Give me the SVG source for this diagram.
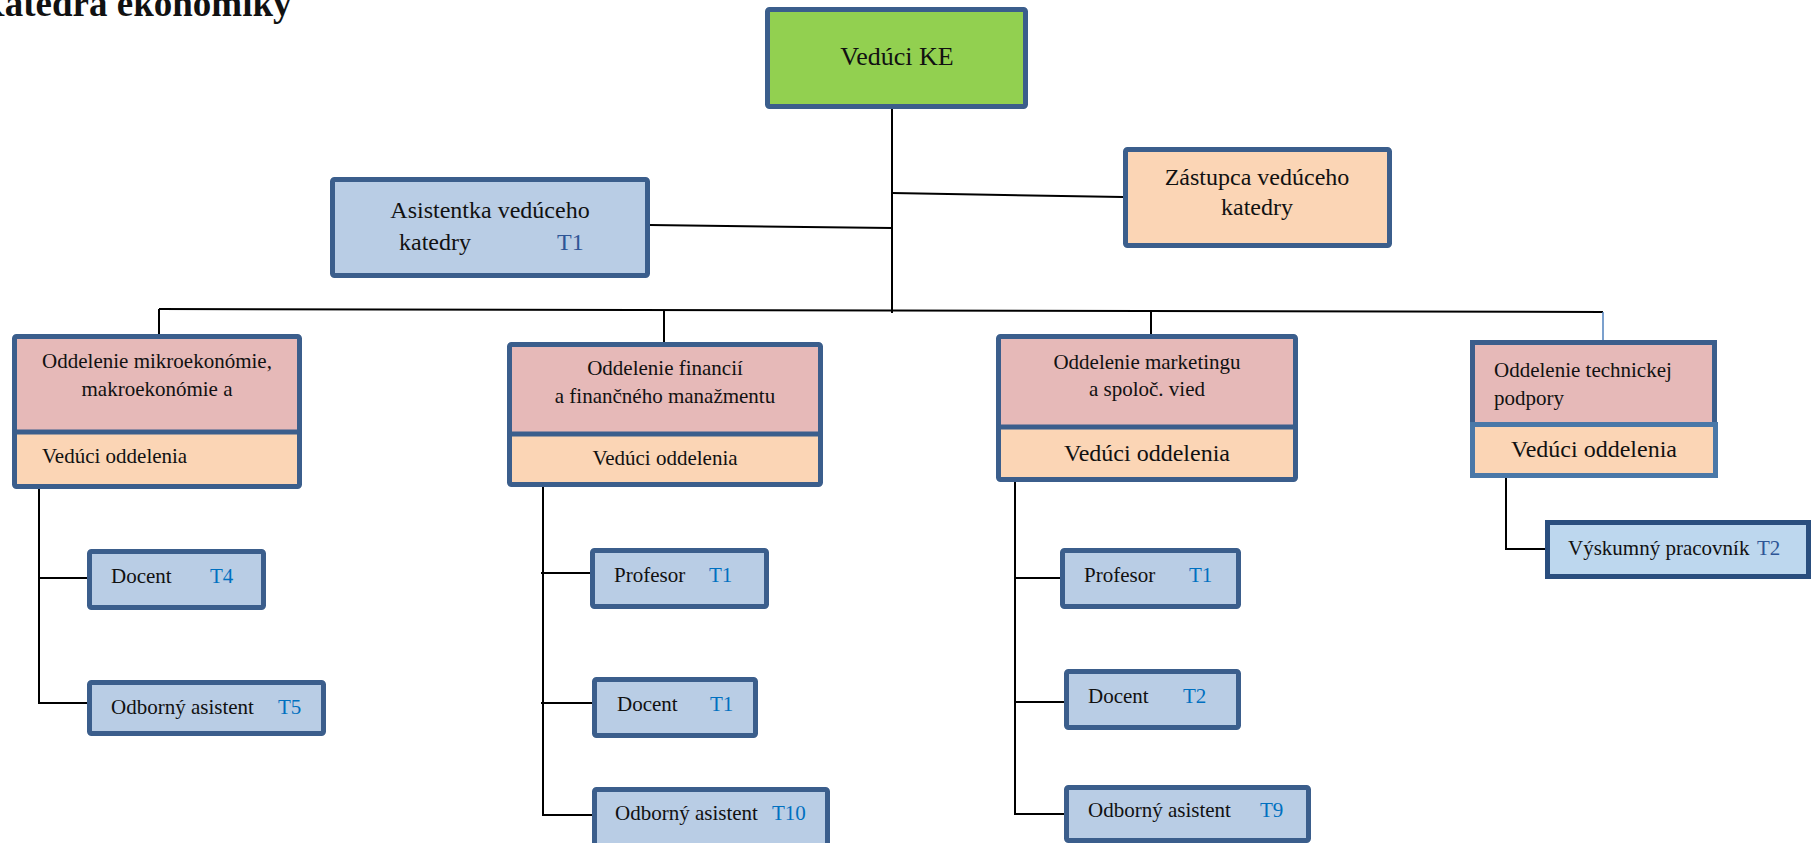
<svg xmlns="http://www.w3.org/2000/svg" width="1811" height="843" viewBox="0 0 1811 843">
<style>
.box{stroke:#3B5E8C;stroke-width:5;}
.blue{fill:#B9CDE5;}
.pink{fill:#E6B9B8;}
.peach{fill:#FBD5B5;}
.green{fill:#92D050;}
.t{font-family:"Liberation Serif","Times New Roman",serif;fill:#111;}
.s21{font-size:21px;}
.s24{font-size:24px;}
.tc{fill:#0070C0;}
.td{fill:#2E5596;}
.ln{stroke:#000;stroke-width:2;fill:none;}
</style>
<rect width="1811" height="843" fill="#fff"/>
<text class="t" x="-24" y="16" font-size="37" font-weight="bold">Katedra ekonomiky</text>

<g id="connectors">
<path class="ln" d="M892 109V313"/>
<path class="ln" d="M650 225L892 228"/>
<path class="ln" d="M892 193L1123 197"/>
<path class="ln" d="M159 309L1603 312"/>
<path class="ln" d="M159 309V334"/>
<path class="ln" d="M664 310V342"/>
<path class="ln" d="M1151 311V334"/>
<path d="M1603 312V340" stroke="#4F81BD" stroke-width="1.5" fill="none"/>
<path class="ln" d="M39 489V703H87M39 578H87"/>
<path class="ln" d="M543 487V815H592M541 573H590M541 703H592"/>
<path class="ln" d="M1015 482V814H1064M1015 578H1060M1015 702H1064"/>
<path class="ln" d="M1506 478V549H1545"/>
</g>

<g id="veduci-ke">
<rect class="box green" x="767.5" y="9.5" width="258" height="97" rx="2"/>
<text class="t" x="897" y="65" font-size="26" text-anchor="middle">Vedúci KE</text>
</g>

<g id="asistentka">
<rect class="box blue" x="332.5" y="179.5" width="315" height="96" rx="2"/>
<text class="t s24" x="490" y="218" text-anchor="middle">Asistentka vedúceho</text>
<text class="t s24" x="399" y="250">katedry</text>
<text class="t s24 td" x="557" y="250">T1</text>
</g>

<g id="zastupca">
<rect class="box peach" x="1125.5" y="149.5" width="264" height="96" rx="2"/>
<text class="t s24" x="1257" y="185" text-anchor="middle">Zástupca vedúceho</text>
<text class="t s24" x="1257" y="215" text-anchor="middle">katedry</text>
</g>

<g id="dept-mikro">
<rect class="box pink" x="14.5" y="336.5" width="285" height="150" rx="2"/>
<rect class="peach" x="17" y="434" width="280" height="50"/>
<path d="M14.5 432H299.5" stroke="#3B5E8C" stroke-width="5"/>
<text class="t s21" x="157" y="368" text-anchor="middle">Oddelenie mikroekonómie,</text>
<text class="t s21" x="157" y="396" text-anchor="middle">makroekonómie a</text>
<text class="t s21" x="42" y="463">Vedúci oddelenia</text>
</g>

<g id="dept-financie">
<rect class="box pink" x="509.5" y="344.5" width="311" height="140" rx="2"/>
<rect class="peach" x="512" y="436" width="306" height="46"/>
<path d="M509.5 434H820.5" stroke="#3B5E8C" stroke-width="5"/>
<text class="t s21" x="665" y="375" text-anchor="middle">Oddelenie financií</text>
<text class="t s21" x="665" y="403" text-anchor="middle">a finančného manažmentu</text>
<text class="t s21" x="665" y="465" text-anchor="middle">Vedúci oddelenia</text>
</g>

<g id="dept-marketing">
<rect class="box pink" x="998.5" y="336.5" width="297" height="143" rx="2"/>
<rect class="peach" x="1001" y="429" width="292" height="48"/>
<path d="M998.5 427H1295.5" stroke="#3B5E8C" stroke-width="5"/>
<text class="t s21" x="1147" y="369" text-anchor="middle">Oddelenie marketingu</text>
<text class="t s21" x="1147" y="396" text-anchor="middle">a spoloč. vied</text>
<text class="t s24" x="1147" y="461" text-anchor="middle">Vedúci oddelenia</text>
</g>

<g id="dept-technicka">
<rect class="box pink" x="1472.5" y="342.5" width="242" height="82"/>
<rect class="peach" x="1472.5" y="424.5" width="243" height="51" stroke="#4A78A8" stroke-width="5"/>
<text class="t s21" x="1494" y="377">Oddelenie technickej</text>
<text class="t s21" x="1494" y="405">podpory</text>
<text class="t s24" x="1594" y="457" text-anchor="middle">Vedúci oddelenia</text>
</g>

<g id="d1-docent">
<rect class="box blue" x="89.5" y="551.5" width="174" height="56" rx="2"/>
<text class="t s21" x="111" y="583">Docent</text>
<text class="t s21 tc" x="210" y="583">T4</text>
</g>
<g id="d1-odborny">
<rect class="box blue" x="89.5" y="682.5" width="234" height="51" rx="2"/>
<text class="t s21" x="111" y="714">Odborný asistent</text>
<text class="t s21 tc" x="278" y="714">T5</text>
</g>

<g id="d2-profesor">
<rect class="box blue" x="592.5" y="550.5" width="174" height="56" rx="2"/>
<text class="t s21" x="614" y="582">Profesor</text>
<text class="t s21 tc" x="709" y="582">T1</text>
</g>
<g id="d2-docent">
<rect class="box blue" x="594.5" y="679.5" width="161" height="56" rx="2"/>
<text class="t s21" x="617" y="711">Docent</text>
<text class="t s21 tc" x="710" y="711">T1</text>
</g>
<g id="d2-odborny">
<rect class="box blue" x="594.5" y="789.5" width="233" height="58" rx="2"/>
<text class="t s21" x="615" y="820">Odborný asistent</text>
<text class="t s21 tc" x="772" y="820">T10</text>
</g>

<g id="d3-profesor">
<rect class="box blue" x="1062.5" y="550.5" width="176" height="56" rx="2" stroke="#2A4E7E"/>
<text class="t s21" x="1084" y="582">Profesor</text>
<text class="t s21 tc" x="1189" y="582">T1</text>
</g>
<g id="d3-docent">
<rect class="box blue" x="1066.5" y="671.5" width="172" height="56" rx="2"/>
<text class="t s21" x="1088" y="703">Docent</text>
<text class="t s21 tc" x="1183" y="703">T2</text>
</g>
<g id="d3-odborny">
<rect class="box blue" x="1066.5" y="787.5" width="242" height="53" rx="2"/>
<text class="t s21" x="1088" y="817">Odborný asistent</text>
<text class="t s21 tc" x="1260" y="817">T9</text>
</g>

<g id="d4-vyskumny">
<rect x="1547.5" y="522.5" width="261" height="54" fill="#BDD7EE" stroke="#2A4E7E" stroke-width="5"/>
<text class="t s21" x="1568" y="555">Výskumný pracovník</text>
<text class="t s21 td" x="1757" y="555">T2</text>
</g>
</svg>
